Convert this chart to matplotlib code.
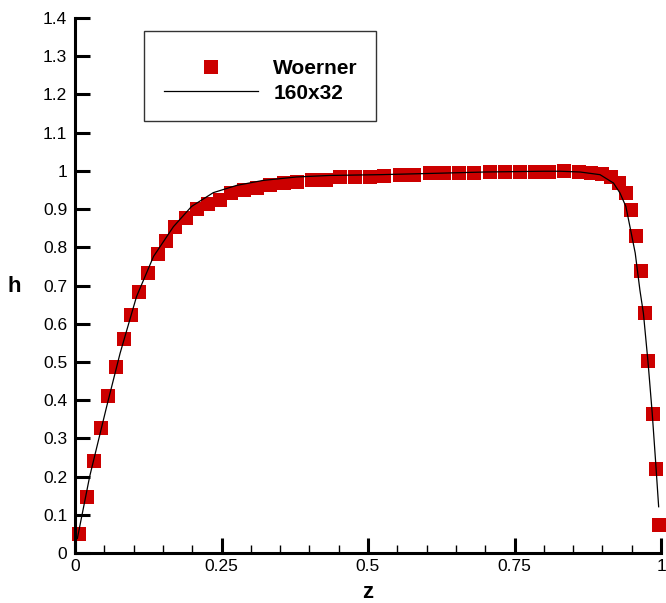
import numpy as np
import matplotlib
matplotlib.use("Agg")
import matplotlib.pyplot as plt
from matplotlib.patches import Rectangle
from matplotlib.ticker import MultipleLocator, FixedLocator, FuncFormatter

plt.rcParams['font.family'] = ['Liberation Sans', 'DejaVu Sans']

# Woerner reference data (squares)
woerner_z = [0.007, 0.020, 0.032, 0.044, 0.057, 0.070, 0.084, 0.096, 0.110, 0.125,
             0.141, 0.156, 0.171, 0.190, 0.208, 0.227, 0.248, 0.266, 0.288, 0.310,
             0.333, 0.356, 0.378, 0.404, 0.428, 0.453, 0.477, 0.503, 0.528, 0.554,
             0.579, 0.605, 0.630, 0.656, 0.681, 0.709, 0.734, 0.759, 0.785, 0.809,
             0.835, 0.860, 0.881, 0.900, 0.915, 0.928, 0.940, 0.949, 0.957, 0.966,
             0.972, 0.978, 0.986, 0.991, 0.996]
woerner_h = [0.050, 0.147, 0.242, 0.328, 0.412, 0.487, 0.559, 0.624, 0.682, 0.734,
             0.782, 0.817, 0.853, 0.877, 0.899, 0.914, 0.925, 0.941, 0.949, 0.956,
             0.962, 0.967, 0.972, 0.977, 0.977, 0.983, 0.983, 0.984, 0.987, 0.990,
             0.990, 0.995, 0.995, 0.995, 0.995, 0.997, 0.997, 0.997, 0.997, 0.997,
             1.000, 0.997, 0.995, 0.991, 0.984, 0.969, 0.941, 0.897, 0.830, 0.738,
             0.628, 0.503, 0.364, 0.220, 0.073]

# 160x32 simulation (line)
sim_z = [0.004, 0.025, 0.054, 0.077, 0.105, 0.134, 0.168, 0.199, 0.236, 0.276,
         0.321, 0.378, 0.435, 0.520, 0.600, 0.700, 0.800, 0.828, 0.862, 0.896,
         0.919, 0.930, 0.940, 0.947, 0.956, 0.964, 0.970, 0.978, 0.985, 0.991, 0.996]
sim_h = [0.038, 0.200, 0.383, 0.523, 0.671, 0.776, 0.854, 0.907, 0.943, 0.962,
         0.975, 0.984, 0.988, 0.990, 0.993, 0.997, 0.999, 0.999, 0.997, 0.990,
         0.968, 0.942, 0.907, 0.854, 0.785, 0.688, 0.627, 0.497, 0.366, 0.235, 0.121]

x_major = [0, 0.25, 0.5, 0.75, 1]
x_labels = ['0', '0.25', '0.5', '0.75', '1']
y_major = [round(v, 1) for v in np.arange(0, 1.41, 0.1)]

W, H = 666, 603
fig = plt.figure(figsize=(W / 100, H / 100), dpi=100)
ax = fig.add_axes([75 / W, 1 - 553 / H, 586 / W, 535 / H])

ax.plot(woerner_z, woerner_h, linestyle='none', marker='s', markersize=10,
        color='#cc0000', markeredgewidth=0, clip_on=False, label='Woerner', zorder=2)
ax.plot(sim_z, sim_h, color='black', linewidth=0.9, label='160x32', zorder=3)

ax.set_xlim(0, 1)
ax.set_ylim(0, 1.4)

for s in ['top', 'right']:
    ax.spines[s].set_visible(False)
for s in ['left', 'bottom']:
    ax.spines[s].set_linewidth(2.2)

ax.xaxis.set_major_locator(FixedLocator(x_major))
ax.xaxis.set_major_formatter(FuncFormatter(lambda v, p: x_labels[x_major.index(round(v, 2))] if round(v, 2) in x_major else ''))
ax.xaxis.set_minor_locator(MultipleLocator(0.05))
ax.yaxis.set_major_locator(FixedLocator(y_major))
ax.yaxis.set_major_formatter(FuncFormatter(lambda v, p: '%g' % round(v, 1)))

ax.tick_params(axis='both', which='major', direction='in', length=11, width=2.2,
               labelsize=12.5, colors='black')
ax.tick_params(axis='x', which='major', pad=4)
ax.tick_params(axis='y', which='major', pad=5.5)
ax.tick_params(axis='x', which='minor', direction='in', length=6, width=1.0)

ax.set_xlabel('z', fontsize=16, fontweight='bold')
ax.xaxis.label.set_va('baseline')
ax.xaxis.set_label_coords(0.5, (553 - 597.7) / 535)
ax.set_ylabel('h', fontsize=16, fontweight='bold', rotation=0, ha='center', va='center')
ax.yaxis.set_label_coords((14 - 75) / 586, (553 - 287) / 535)

# legend frame
ax.add_patch(Rectangle(((144 - 75) / 586, (553 - 121) / 535), (376 - 144) / 586, (121 - 31) / 535,
                       transform=ax.transAxes, fill=False, edgecolor='#333333', linewidth=1.0,
                       clip_on=False, zorder=5))
leg = ax.legend(loc='upper left', bbox_to_anchor=((164 - 75) / 586, (553 - 59) / 535),
                frameon=False, borderpad=0, borderaxespad=0, numpoints=1,
                handlelength=4.5, handletextpad=0.75, labelspacing=0.27,
                prop={'size': 15, 'weight': 'bold'})

fig.savefig('out.png', dpi=100)
